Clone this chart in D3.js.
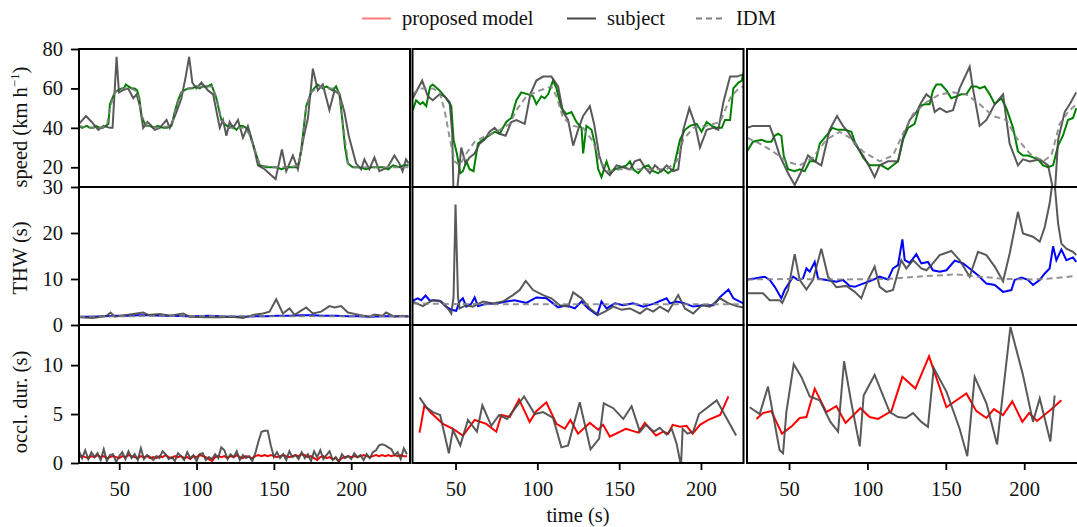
<!DOCTYPE html>
<html>
<head>
<meta charset="utf-8">
<title>proposed model vs subject vs IDM</title>
<script src="https://d3js.org/d3.v7.min.js"></script>
<style>
  body { margin: 0; background: #fff; }
  text { font-family: "Liberation Serif", "Times New Roman", serif; fill: #111; }
</style>
</head>
<body>
<script>

// ---- data: [time (s), value] ----
var timeTicks = [50, 100, 150, 200];
var speedTicks = [20, 40, 60, 80];
var thwTicks = [0, 10, 20, 30];
var occlTicks = [0, 5, 10];

// column 1
var speedSubject1 = [[24,42],[28.5,46],[32.2,43],[36.5,39],[39.7,41],[44,40],[45.7,40],[48.3,76],[49.8,58],[52.2,59],[55.8,60],[59.1,55],[61.2,57],[63.4,51],[65.5,40],[68.3,43],[70.9,41],[73,39],[76.3,40],[80.6,44],[82.7,40],[87,48],[90.2,55],[93,66],[95.2,76],[97.3,63],[99.9,60],[103.1,63],[107.4,59],[110.7,57],[115,40],[117.1,44],[119.3,36],[121.4,43],[123.6,40],[126.8,44],[130,35],[133.2,41],[136.5,32],[139.7,21],[144,19],[148.3,16],[151.1,14],[155.2,29],[158,18],[162.3,26],[165.5,19],[169.2,35],[172,45],[175.2,70],[178.4,59],[181.6,62],[185.9,49],[189.2,59],[192.4,57],[195.6,48],[198.4,36],[203.1,22],[206.4,19],[208.5,24],[211.7,19],[215,25],[218.2,18],[223.6,20],[227.9,26],[231.1,22],[233.2,18],[235.4,24],[237.1,22]];
var speedModel1 = [[24,41],[26,40],[29,41],[31,40],[33.2,40],[35,41],[37.5,40],[39.5,40],[41.4,41],[43,42],[44,52],[45.5,55],[47.2,58],[49,59],[51.5,60],[53,60],[54.3,62],[56,61],[58,60],[60,60],[61.6,59],[63,55],[64.4,46],[66,43],[67.7,41],[70,41],[72,40],[75,41],[78.4,40],[81,40],[83.8,41],[85.9,48],[88,54],[90.2,58],[92,59],[94.5,60],[97,60],[99.9,61],[102,60],[104.2,61],[107,61],[109.6,62],[112.8,55],[116,44],[118,42],[121.4,40],[123,41],[125.7,39],[128,41],[130,41],[132,40],[134.3,37],[137.5,29],[140.8,21],[145.1,20],[148,20],[151.5,20],[155,19],[158,20],[161,20],[164.4,20],[166,22],[167.7,29],[170.9,51],[174.1,58],[176,60],[178.4,62],[181.6,60],[184,61],[185.9,60],[188,59],[190.2,61],[192.4,57],[194.5,42],[196,30],[197.8,22],[201,20],[205,20],[209.6,19],[213,20],[217,20],[220.3,20],[224,19],[227,21],[231.1,20],[234,21],[237.1,21]];
var speedIdm1 = [[24,41],[30,40],[37,40],[42,41],[44,50],[47,58],[52,60],[58,60],[62,58],[64.5,46],[68,41],[75,40],[84,41],[86,48],[90,58],[95,60],[100,61],[105,61],[110,61],[113,55],[116,44],[121,40],[126,40],[131,40],[134,37],[138,28],[141,21],[150,20],[160,20],[166,21],[168,30],[171,51],[174,58],[179,61],[185,60],[190,60],[192.4,57],[195,40],[198,22],[202,20],[215,20],[237,20]];
var thwSubject1 = [[24,1.7],[33.2,1.5],[41.8,2.0],[44.4,2.7],[47.2,1.8],[54.8,2.2],[61.2,2.5],[65.5,2.7],[68.7,2.2],[76.3,2.4],[82.7,2.0],[91.3,2.5],[95.6,1.8],[106.4,1.7],[115,1.7],[123.6,1.8],[130,1.5],[136.5,2.2],[142.9,2.5],[147.2,2.9],[151.5,5.6],[155.8,2.5],[160.1,3.6],[163.4,2.2],[166.6,2.9],[170.9,3.8],[175.2,2.5],[180.6,2.9],[185.9,4.1],[189.2,3.8],[193.5,4.1],[197.8,2.7],[205.3,2.2],[211.7,1.8],[215,2.3],[220.3,2.0],[222.5,2.7],[227.9,1.8],[233.2,2.0],[237.1,1.8]];
var thwModel1 = [[24,1.8],[32,1.8],[40,1.9],[48,2.0],[55,2.0],[62,2.1],[70,2.1],[78,2.0],[85,2.0],[93,1.9],[100,1.9],[108,2.0],[115,1.9],[122,1.8],[130,1.8],[138,1.9],[145,1.9],[152,2.0],[160,2.0],[168,2.1],[175,2.1],[182,2.0],[190,2.0],[198,1.9],[205,1.9],[212,1.8],[220,1.9],[228,1.9],[237,1.9]];
var thwIdm1 = [[24,1.8],[80,2.0],[150,1.9],[237,1.9]];
var occlTimes1 = [24,26,28,30,32,34,36,38,40,42,44,46,48,50,52,54,56,58,60,62,64,66,68,70,72,74,76,78,80,82,84,86,88,90,92,94,96,98,100,102,104,106,108,110,112,114,116,118,120,122,124,126,128,130,132,134,136,138,140,142,144,146,148,150,152,154,156,158,160,162,164,166,168,170,172,174,176,178,180,182,184,186,188,190,192,194,196,198,200,202,204,206,208,210,212,214,216,218,220,222,224,226,228,230,232,234,236];
var occlSubject1 = [1.2,0.5,1.3,0.4,1.1,0.6,1.0,0.3,1.4,0.2,0.8,0.9,0.1,0.7,1.1,0.4,1.2,0.5,0.9,0.3,1.5,0.4,0.8,0.6,0.3,0.7,0.5,1.2,0.9,0.4,0.6,0.2,1.0,0.7,0.3,1.1,0.5,0.8,0.2,0.9,1.0,0.3,0.6,0.4,0.9,0.5,1.6,1.3,0.4,0.9,0.6,1.2,0.3,0.8,0.5,0.7,0.2,1.0,2.2,3.2,3.3,3.3,1.8,0.6,1.1,0.5,0.9,0.3,1.2,0.6,0.8,0.4,1.1,0.5,0.9,0.2,1.2,0.6,1.3,0.4,0.8,1.2,0.3,0.6,0.1,0.9,0.5,0.7,0.4,1.0,0.6,0.8,0.3,0.9,0.5,1.1,1.3,1.8,1.9,1.8,1.6,1.4,0.8,1.1,0.4,1.5,0.9];
var occlModel1 = [0.6,0.7,0.6,0.5,0.7,0.6,0.8,0.6,0.7,0.5,0.6,0.7,0.6,0.5,0.7,0.6,0.8,0.7,0.6,0.5,0.7,0.6,0.7,0.5,0.6,0.5,0.7,0.6,0.8,0.6,0.5,0.7,0.6,0.7,0.5,0.6,0.4,0.7,0.6,0.8,0.7,0.6,0.4,0.2,0.6,0.7,0.6,0.7,0.5,0.7,0.6,0.8,0.6,0.5,0.7,0.6,0.5,0.7,0.8,0.7,0.8,0.7,0.8,0.7,0.6,0.7,0.8,0.7,0.6,0.7,0.8,0.7,0.9,0.8,0.6,0.7,0.5,0.3,0.6,0.7,0.5,0.6,0.4,0.5,0.2,0.5,0.6,0.7,0.6,0.7,0.6,0.7,0.8,0.7,0.6,0.7,0.8,0.7,0.8,0.7,0.8,0.7,0.8,0.7,0.8,0.7,0.7];

// column 2
var speedSubject2 = [[23.9,55],[29.6,64],[33.1,56],[36.1,54],[40.2,57],[43.3,56],[46.4,53],[48,37],[48.8,5],[50.6,5],[53.5,30],[56.1,22],[58.6,25],[61.7,27],[64.7,32],[67.8,34],[70.8,38],[73.9,40],[77,37],[80.6,36],[84.1,43],[87.2,44],[92.3,42],[95.7,57],[99.4,64],[103.5,66],[108.6,66],[112.7,61],[115.7,48],[118.8,44],[121.9,31],[124.9,39],[128,46],[132.1,51],[134.7,42],[137.8,26],[140.6,19],[144.3,16],[148.4,21],[152.5,20],[156.6,19],[159.6,23],[162.7,24],[165.7,20],[168.8,17],[171.9,21],[175.9,18],[179,21],[183.1,18],[186.1,19],[189.2,39],[192.9,50],[196.3,42],[199.4,30],[203.5,39],[207.6,40],[210.6,39],[213.7,53],[217.8,66],[221.9,66],[225.5,67]];
var speedModel2 = [[23.9,49],[25.9,54],[28.4,52],[30,53],[32.1,51],[34.5,61],[36.1,62],[40.2,59],[44.3,55],[47.4,51],[48.8,34],[50.8,27],[52.9,17],[54.5,18],[56.6,23],[58.6,19],[61,18],[63.7,32],[66.8,34],[70.4,36],[73.9,38],[77,37],[81,43],[84.1,45],[87.2,54],[90.2,58],[94.3,57],[97.4,56],[99.4,52],[102.5,56],[104.5,55],[106.6,57],[109.6,64],[111.7,60],[114.7,50],[117.8,47],[120.8,48],[123.9,43],[127,40],[128,27],[130,41],[133.1,39],[135.1,32],[137.2,19],[139.2,15],[142.3,23],[144.7,17],[147.4,19],[151.5,20],[154.5,21],[156.6,23],[158.6,19],[161.7,17],[164.7,20],[167.8,21],[170.8,18],[173.9,17],[177,19],[180,17],[183.1,19],[187.2,34],[190.2,39],[193.3,41],[197.4,42],[200.4,38],[203.5,43],[206.6,41],[209.6,40],[212.7,40],[214.7,44],[217.8,44],[219.8,60],[222.9,63],[225,64],[225.9,68]];
var speedIdm2 = [[23.9,57],[28,60],[36.1,60],[40.2,58],[43.3,49],[46.4,35],[49.4,23],[52.5,21],[56.6,27],[61.7,33],[68.8,36],[77,39],[83.1,42],[87.2,49],[93.3,56],[101.5,59],[108.6,61],[111.7,56],[115.7,45],[121.9,41],[128,40],[134.1,33],[138.2,23],[143.3,18],[150.4,19],[162.7,19],[179,19],[185.1,23],[189.2,34],[195.3,40],[203.5,41],[211.7,43],[217.8,55],[221.9,59],[225.9,61]];
var thwSubject2 = [[23.9,5.1],[30,4.1],[36.1,5.4],[41.3,5.1],[45.3,3.6],[47.4,2.5],[48.8,6.1],[50,26.2],[51.5,6.1],[52.5,3.6],[56.6,4.3],[60.6,4.0],[66.8,5.1],[72.9,4.7],[79,5.1],[85.1,6.5],[89.2,7.6],[92.9,9.6],[97.4,7.6],[103.5,6.5],[108.6,5.8],[113.7,4.3],[118.8,4.0],[121.9,7.1],[127,5.8],[132.1,3.6],[137.2,2.2],[141.3,2.9],[146.4,4.0],[151.5,3.3],[156.6,3.6],[162.7,2.5],[166.8,3.6],[170.8,2.9],[174.9,4.0],[180,2.9],[186.1,6.5],[190.2,3.6],[195.3,2.5],[200.4,4.3],[205.5,4.0],[211.7,5.8],[216.8,4.7],[221.9,4.1],[225.9,3.8]];
var thwModel2 = [[23.9,5.3],[26.9,5.8],[29,5.4],[31.7,6.4],[34.1,5.4],[40.2,5.3],[44.3,4.0],[47.4,3.3],[50.4,3.1],[52.5,5.1],[54.5,5.8],[56.6,4.0],[59.6,4.6],[61.7,6.0],[63.7,4.1],[68.8,4.6],[74.9,4.7],[81,5.1],[86.1,5.4],[93.3,4.8],[99.4,6.0],[105.5,5.8],[109.6,4.7],[112.7,3.8],[117.8,4.3],[122.9,3.6],[127,5.1],[131.1,3.6],[136.6,2.2],[139.2,5.1],[142.3,3.6],[147.4,4.7],[152.5,4.3],[158.6,4.7],[164.7,4.0],[170.8,4.6],[179,5.8],[181,4.7],[185.1,5.1],[189.2,4.8],[195.3,4.0],[201.5,4.3],[207.6,4.3],[211.7,6.1],[216.8,7.7],[219.8,5.8],[225.9,4.7]];
var thwIdm2 = [[23.9,4.7],[40,4.6],[80,4.5],[140,4.5],[200,4.5],[225.9,4.5]];
var occlSubject2 = [[28,6.7],[32.1,5.7],[36.1,5.2],[40.6,4.9],[45.9,1.0],[48.4,3.4],[52.9,1.8],[57.6,4.4],[63.1,3.2],[66.4,5.9],[71.9,3.8],[76.6,4.9],[81.5,4.5],[91.9,6.8],[98.4,5.0],[103.5,5.2],[109.6,4.6],[114.7,1.6],[118.8,1.8],[125.9,6.2],[132.5,1.4],[137.8,2.5],[140.6,6.1],[146.4,5.6],[152.5,4.5],[157.6,5.8],[162.7,3.2],[166.4,3.9],[171.2,3.2],[174.9,3.6],[179,2.9],[182.1,3.5],[185.1,2.0],[187.8,-0.3],[188.8,3.5],[191.7,3.0],[195.3,3.2],[198.8,5.0],[209.6,6.4],[221.5,2.8]];
var occlModel2 = [[28,3.1],[31,5.9],[35.1,5.1],[42.3,4.0],[48.4,3.5],[54.5,2.8],[61.7,4.4],[68.8,4.0],[74.9,3.2],[78,4.9],[83.1,4.7],[88.8,6.5],[95.3,4.2],[99.4,5.3],[105.5,6.2],[111.7,4.0],[116.8,3.5],[120.2,4.4],[124.9,3.0],[132.1,4.1],[137.2,3.4],[140.2,3.9],[144.3,2.7],[154.1,3.5],[161.7,3.1],[165.7,4.1],[172.5,2.8],[177,3.2],[180,3.0],[182.7,3.9],[187.2,3.7],[191.2,3.8],[194.9,3.0],[199.4,3.9],[204.5,4.4],[211.7,4.9],[216.8,6.8]];

// column 3
var speedSubject3 = [[23.2,40],[27,41],[37.7,41],[40.9,34],[44,26],[49.4,17],[53.6,11],[57.9,18],[62.1,26],[66.4,23],[70.6,21],[75.9,39],[80.6,46],[84.4,41],[87.6,38],[91.9,32],[97.2,26],[101.4,20],[104.6,15],[107.8,21],[113.1,23],[116.3,23],[119.5,23],[122.7,35],[127,44],[131.2,48],[134.4,53],[137.6,57],[140.8,55],[142.9,48],[146.1,50],[150.4,48],[154.6,49],[158.8,60],[165.2,71],[167.3,60],[171.6,41],[175.9,44],[181.2,52],[186.5,57],[190.7,32],[196,21],[199.2,24],[203.5,23],[209.9,24],[215.2,21],[219.4,5],[221.6,34],[225.8,48],[229,52],[233.2,58]];
var speedModel3 = [[23.2,28],[27,33],[32.4,34],[35.5,33],[38.7,33],[40.9,36],[43,37],[45.1,36],[46.6,26],[49.4,19],[53.6,18],[56.8,19],[60,18],[63.2,23],[67,23],[69.6,32],[73.8,36],[77.6,40],[81.3,39],[85.5,39],[89.8,38],[91.9,33],[97.2,25],[101.4,21],[105.7,21],[108.9,21],[113.1,19],[116.3,21],[119.5,23],[122.7,34],[125.9,40],[130.1,42],[133.3,51],[136.5,52],[139.7,52],[141.8,59],[144,62],[147.1,62],[150.4,59],[153.5,55],[156.7,56],[159.9,57],[163.1,57],[166.3,61],[169.5,61],[171.6,60],[174.8,61],[178,57],[181.2,52],[185.4,55],[188.6,50],[192.9,40],[196,28],[199.2,26],[202.4,26],[205.6,25],[208.8,24],[212,21],[215.2,20],[218.4,21],[221.6,31],[224.7,36],[227.9,44],[231.1,45],[233.2,50]];
var speedIdm3 = [[23.2,35],[31.3,32],[39.8,28],[48.3,23],[56.8,21],[65.3,25],[73.8,34],[82.3,38],[88.7,35],[97.2,28],[107.8,23],[116.3,26],[122.7,37],[129.1,47],[137.6,53],[146.1,57],[154.6,58],[163.1,57],[171.6,52],[180.1,46],[188.6,44],[195,35],[203.5,27],[212,23],[217.3,26],[222.6,42],[227.9,48],[233.2,52]];
var thwSubject3 = [[23.2,6.9],[33.4,6.9],[37.7,5.4],[44,5.4],[45.7,4.8],[49.4,7.6],[53.6,15.4],[56.8,9.8],[61.1,7.7],[65.3,9.8],[70.6,16.6],[74.9,10.5],[80.2,8.2],[86.6,8.5],[91.9,7.2],[96.1,5.8],[100.4,9.8],[104.6,12.7],[107.8,8.3],[112.1,7.2],[116.3,7.6],[121.6,14.1],[124.8,12.3],[129.1,14.1],[134.4,12.3],[137.6,11.9],[140.8,13.0],[146.1,15.2],[153.5,16.1],[158.8,14.1],[165.2,10.5],[170.5,15.9],[175.9,15.2],[181.2,12.7],[186.5,9.5],[190.7,15.5],[196,24.6],[199.2,19.9],[205.6,19.2],[209.9,18.1],[213.1,21.3],[216.2,26.4],[218.8,33],[221.6,22.1],[223.7,17.7],[226.9,16.6],[231.1,15.9],[233.2,15.2]];
var thwModel3 = [[23.2,9.9],[28.1,10.1],[34.5,10.5],[37.7,9.8],[40.9,8.3],[45.1,5.8],[47.2,7.6],[52.6,10.5],[55.7,9.8],[58.9,10.1],[61.1,12.3],[63.2,11.6],[66.4,13.7],[68.5,10.1],[73.8,9.8],[80.2,9.4],[84.4,9.8],[88.7,8.5],[91.9,8.3],[97.2,9.0],[103.6,9.8],[107.8,10.5],[113.1,9.9],[116.3,12.3],[119.5,13.0],[122.3,18.6],[123.8,14.1],[127,13.5],[131.2,15.4],[134.4,13.4],[138.6,13.7],[141.8,11.9],[146.1,11.6],[150.4,11.9],[155.7,14.0],[161,13.4],[165.2,12.3],[170.5,10.8],[175.9,9.0],[181.2,8.7],[186.5,7.2],[191.8,7.6],[193.9,9.8],[198.2,10.3],[202.4,9.8],[205.6,8.7],[209.9,9.8],[213.1,11.2],[216.2,12.3],[218.4,17.1],[220.5,14.1],[223.7,16.4],[226.9,14.1],[231.1,14.7],[233.2,13.7]];
var thwIdm3 = [[23.2,9.9],[50.4,10.0],[82.3,9.9],[112.1,10.0],[135.5,10.6],[156.7,11.0],[171.6,10.5],[188.6,10.0],[205.6,9.9],[220.5,10.2],[233.2,10.7]];
var occlSubject3 = [[24.9,5.7],[31.3,5.0],[36.6,7.8],[44,1.3],[46.2,1.0],[48.3,5.2],[53,10.1],[57.9,8.8],[63.2,6.8],[69.6,6.4],[76.4,4.2],[81.3,3.2],[85.1,10.4],[89.8,6.1],[95.1,1.7],[97.6,6.9],[104.6,9.0],[114.2,5.2],[119.5,4.7],[124.4,4.6],[129.1,5.1],[134.4,4.2],[138.6,3.7],[142.3,9.7],[150.4,7.3],[158.8,3.5],[163.7,0.7],[168.4,8.8],[175.9,6.1],[182.7,1.9],[191.2,13.9],[199.2,9.0],[205.6,4.2],[209.9,6.6],[216.7,2.2],[219.4,6.9]];
var occlModel3 = [[29.2,4.5],[33.4,5.1],[38.7,5.3],[45.5,3.0],[52.1,3.8],[56.8,4.6],[61.1,4.7],[66.4,7.6],[73.8,5.2],[80.2,5.8],[86.1,4.1],[95.5,5.6],[101.4,4.7],[106.8,4.5],[115.3,5.3],[122.3,8.8],[130.6,7.6],[139.3,10.9],[150.4,5.7],[163.1,7.1],[169.5,5.3],[175.9,4.6],[180.7,5.5],[186.5,4.9],[192.4,6.3],[198.8,4.2],[203.1,5.1],[208.2,4.3],[217.3,5.5],[223.7,6.4]];

// ---- layout ----
var W = 1077, H = 527;
var colX = [79, 412.5, 747], panelW = 331;
var rowY = [49, 187, 325], panelH = 138;
var timeDomains = [[24, 238], [23.7, 226], [23.2, 234.3]];

var rows = [
    { label: "speed", domain: [10, 80], ticks: speedTicks, color: "#008000", labelY: 127 },
    { label: "THW (s)", domain: [0, 30], ticks: thwTicks, color: "#0000ff", labelY: 258 },
    { label: "occl. dur. (s)", domain: [0, 14.1], ticks: occlTicks, color: "#ff0000", labelY: 402 }
];

function zip(ts, vs) { return ts.map(function(t, i) { return [t, vs[i]]; }); }

var panels = [
    [ { subject: speedSubject1, model: speedModel1, idm: speedIdm1 },
      { subject: speedSubject2, model: speedModel2, idm: speedIdm2 },
      { subject: speedSubject3, model: speedModel3, idm: speedIdm3 } ],
    [ { subject: thwSubject1, model: thwModel1, idm: thwIdm1 },
      { subject: thwSubject2, model: thwModel2, idm: thwIdm2 },
      { subject: thwSubject3, model: thwModel3, idm: thwIdm3 } ],
    [ { subject: zip(occlTimes1, occlSubject1), model: zip(occlTimes1, occlModel1) },
      { subject: occlSubject2, model: occlModel2 },
      { subject: occlSubject3, model: occlModel3 } ]
];

var subjectColor = "#474747", idmColor = "#808080";
var fontSize = 20.5;

var svg = d3.select("body").append("svg")
    .attr("width", W)
    .attr("height", H);

var defs = svg.append("defs");

rows.forEach(function(row, r) {
    var y = d3.scaleLinear().domain(row.domain).range([panelH, 0]);

    timeDomains.forEach(function(dom, c) {
        var x = d3.scaleLinear().domain(dom).range([0, panelW]);
        var clipId = "clip-" + r + "-" + c;
        defs.append("clipPath").attr("id", clipId)
            .append("rect").attr("width", panelW).attr("height", panelH);

        var g = svg.append("g")
            .attr("transform", "translate(" + colX[c] + "," + rowY[r] + ")");

        var line = d3.line()
            .x(function(d) { return x(d[0]); })
            .y(function(d) { return y(d[1]); });

        var plot = g.append("g").attr("clip-path", "url(#" + clipId + ")");
        var p = panels[r][c];

        plot.append("path").datum(p.model)
            .attr("d", line)
            .attr("fill", "none")
            .attr("stroke", row.color)
            .attr("stroke-width", 2);

        plot.append("path").datum(p.subject)
            .attr("d", line)
            .attr("fill", "none")
            .attr("stroke", subjectColor)
            .attr("stroke-opacity", 0.9)
            .attr("stroke-width", 2);

        if (p.idm) {
            plot.append("path").datum(p.idm)
                .attr("d", line)
                .attr("fill", "none")
                .attr("stroke", idmColor)
                .attr("stroke-opacity", 0.85)
                .attr("stroke-dasharray", "6,4")
                .attr("stroke-width", 2);
        }

        // left axis only on first column
        if (c === 0) {
            var ya = g.append("g")
                .call(d3.axisLeft(y).tickValues(row.ticks).tickSize(8).tickPadding(8));
            ya.select(".domain").remove();
            ya.selectAll("line").attr("stroke", "#000").attr("stroke-width", 1.8);
            ya.selectAll("text")
                .attr("font-family", "Liberation Serif, serif")
                .attr("font-size", fontSize)
                .attr("fill", "#111");
        }
        // bottom axis only on last row
        if (r === rows.length - 1) {
            var xa = g.append("g")
                .attr("transform", "translate(0," + panelH + ")")
                .call(d3.axisBottom(x).tickValues(timeTicks).tickSize(7).tickPadding(11));
            xa.select(".domain").remove();
            xa.selectAll("line").attr("stroke", "#000").attr("stroke-width", 1.8);
            xa.selectAll("text")
                .attr("font-family", "Liberation Serif, serif")
                .attr("font-size", fontSize)
                .attr("fill", "#111");
        }

        g.append("rect")
            .attr("width", panelW)
            .attr("height", panelH)
            .attr("fill", "none")
            .attr("stroke", "#000")
            .attr("stroke-width", 2);
    });

    // y labels
    var lab = svg.append("text")
        .attr("transform", "translate(26.5," + row.labelY + ") rotate(-90)")
        .attr("text-anchor", "middle")
        .attr("font-size", fontSize);
    if (r === 0) {
        lab.append("tspan").text("speed (km h");
        lab.append("tspan").attr("font-size", 13).attr("dy", -8).text("\u22121");
        lab.append("tspan").attr("dy", 8).text(")");
    } else {
        lab.text(row.label);
    }
});

// x label
svg.append("text")
    .attr("x", colX[1] + panelW / 2)
    .attr("y", 522)
    .attr("text-anchor", "middle")
    .attr("font-size", fontSize)
    .text("time (s)");

// legend
var legendItems = [
    { name: "proposed model", color: "#ff7b7b", dash: null, x: 362 },
    { name: "subject", color: subjectColor, dash: null, x: 567 },
    { name: "IDM", color: idmColor, dash: "6,4", x: 696 }
];
var legend = svg.append("g");
legendItems.forEach(function(it) {
    legend.append("line")
        .attr("x1", it.x).attr("x2", it.x + 29)
        .attr("y1", 18.5).attr("y2", 18.5)
        .attr("stroke", it.color)
        .attr("stroke-width", 2)
        .attr("stroke-dasharray", it.dash);
    legend.append("text")
        .attr("x", it.x + 40)
        .attr("y", 25)
        .attr("font-size", fontSize)
        .text(it.name);
});

</script>
</body>
</html>
